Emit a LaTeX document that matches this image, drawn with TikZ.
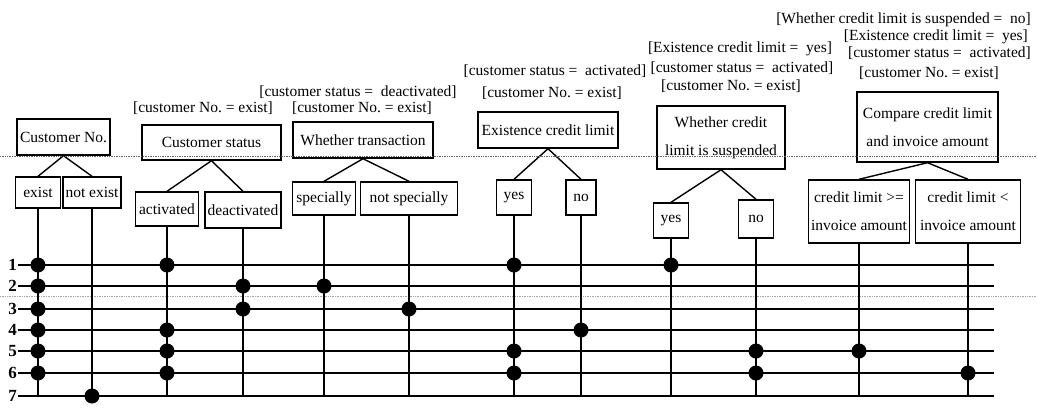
\documentclass[tikz,border=0pt]{standalone}
\usepackage{fontspec}
\setmainfont{Liberation Serif}
\frenchspacing
\tikzset{
  attr/.style={draw, line width=1.4pt, inner sep=1pt, align=center},
  guard/.style={inner sep=0pt},
  rowlbl/.style={inner sep=1pt, font=\fontsize{17}{18}\selectfont\bfseries},
  branch/.style={line width=1.4pt},
  rule/.style={line width=1.3pt},
  stem/.style={line width=2.2pt},
  fold/.style={densely dotted, line width=0.7pt, black!60}
}

\begin{document}
\begin{tikzpicture}[x=1pt, y=-1pt, every node/.style={font=\fontsize{15.5}{18}\selectfont}]
  \useasboundingbox (0,0) rectangle (1037,408);

  % conditions
  \node[attr, minimum width=93pt, minimum height=36pt] (cno) at (63.5,137) {Customer No.};
  \node[attr, minimum width=139pt, minimum height=35pt] (cst) at (211.5,142.5) {Customer status};
  \node[attr, minimum width=140pt, minimum height=36pt] (wtr) at (363,140) {Whether transaction};
  \node[attr, minimum width=140pt, minimum height=36pt] (ecl) at (548,130) {Existence credit limit};
  \node[attr, minimum width=128pt, minimum height=63pt] (wsp) at (721,137.5) {Whether credit\\[10pt]limit is suspended};
  \node[attr, minimum width=141pt, minimum height=70pt] (cmp) at (927.5,127) {Compare credit limit\\[10pt]and invoice amount};

  % preconditions
  \node[guard] (g1) at (203,108) {[customer No.\ = exist]};
  \node[guard] (g2) at (358,92) {[customer status = \ deactivated]};
  \node[guard] (g3) at (362,108) {[customer No.\ = exist]};
  \node[guard] (g4) at (555,71) {[customer status = \ activated]};
  \node[guard] (g5) at (552,93) {[customer No.\ = exist]};
  \node[guard] (g6) at (740,49) {[Existence credit limit = \ yes]};
  \node[guard] (g7) at (742,68) {[customer status = \ activated]};
  \node[guard] (g8) at (731,86) {[customer No.\ = exist]};
  \node[guard, anchor=east] (g9) at (1031,20) {[Whether credit limit is suspended = \ no]};
  \node[guard, anchor=east] (g10) at (1028,37) {[Existence credit limit = \ yes]};
  \node[guard, anchor=east] (g11) at (1031,53) {[customer status = \ activated]};
  \node[guard] (g12) at (929,73) {[customer No.\ = exist]};

  % values
  \node[attr, minimum width=45pt, minimum height=31pt] (ex) at (38,192.5) {exist};
  \node[attr, minimum width=58pt, minimum height=31pt] (nex) at (92,192.5) {not exist};
  \node[attr, minimum width=63pt, minimum height=34pt] (act) at (167,209) {activated};
  \node[attr, minimum width=76pt, minimum height=36pt] (dea) at (243,210) {deactivated};
  \node[attr, minimum width=63pt, minimum height=33pt] (spc) at (324,198.5) {specially};
  \node[attr, minimum width=97pt, minimum height=33pt] (nsp) at (409,198.5) {not specially};
  \node[attr, minimum width=35pt, minimum height=35pt] (ey) at (514,197.5) {yes};
  \node[attr, minimum width=30pt, minimum height=35pt] (en) at (581,197.5) {no};
  \node[attr, minimum width=35pt, minimum height=35pt] (sy) at (671,220.5) {yes};
  \node[attr, minimum width=35pt, minimum height=38pt] (sn) at (756,219) {no};
  \node[attr, minimum width=101pt, minimum height=63pt] (cge) at (859,211.5) {credit limit >=\\[10pt]invoice amount};
  \node[attr, minimum width=105pt, minimum height=63pt] (clt) at (968,211.5) {credit limit <\\[10pt]invoice amount};

  \foreach \p/\c in {cno/ex, cno/nex, cst/act, cst/dea, wtr/spc, wtr/nsp,
                     ecl/ey, ecl/en, wsp/sy, wsp/sn, cmp/cge, cmp/clt}
    \draw[branch] (\p.south) -- (\c.north);

  \draw[fold] (0,156) -- (1037,156);
  \draw[fold, black!35] (0,296) -- (1037,296);

  % rules
  \foreach \i/\y in {1/265, 2/286, 3/309, 4/330, 5/351, 6/373, 7/396} {
    \node[rowlbl, anchor=east] (n\i) at (18,\y) {\i};
    \coordinate (e\i) at (994,\y);
    \draw[rule] (n\i.east) -- (e\i);
  }

  \foreach \c in {ex, nex, act, dea, spc, nsp, ey, en, sy, sn, cge, clt}
    \draw[stem] (\c.south) -- (\c.south |- e7);

  \foreach \c/\i in {ex/1, ex/2, ex/3, ex/4, ex/5, ex/6, nex/7,
                     act/1, act/4, act/5, act/6, dea/2, dea/3,
                     spc/2, nsp/3, ey/1, ey/5, ey/6, en/4,
                     sy/1, sn/5, sn/6, cge/5, clt/6}
    \fill (\c.south |- e\i) circle (7.5pt);
\end{tikzpicture}
\end{document}
